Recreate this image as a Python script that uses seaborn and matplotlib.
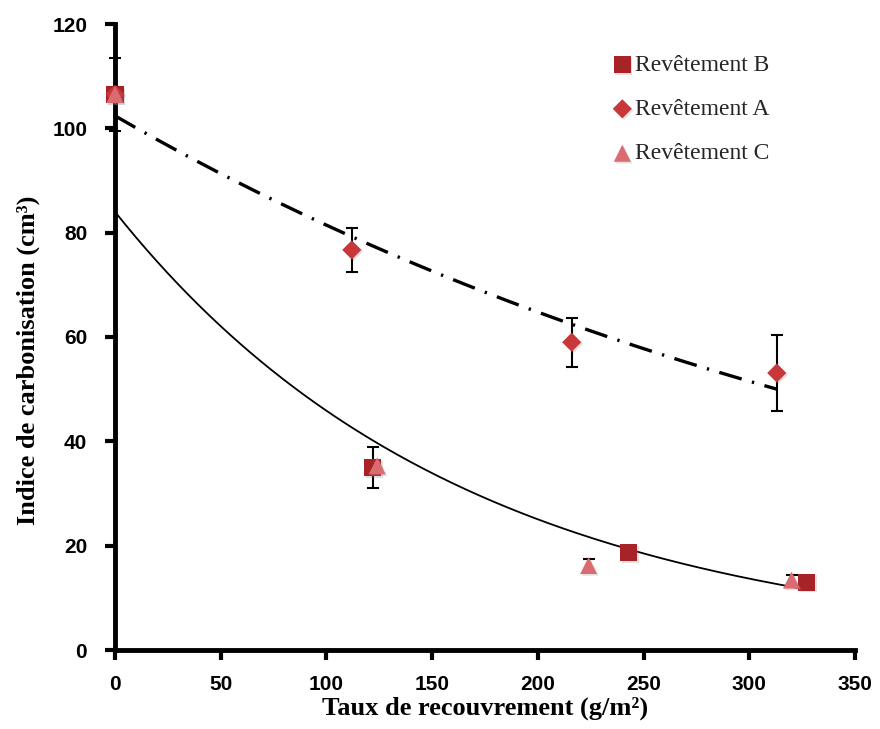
import numpy as np
import pandas as pd
import matplotlib
matplotlib.use("Agg")
import matplotlib.pyplot as plt
import matplotlib.patheffects as pe
import seaborn as sns

# Measured carbonisation index per coating
x_b = [0, 122, 243, 327]
y_b = [106.5, 35.0, 18.6, 13.0]
err_b = [0, 4.0, 0, 0]

x_a = [0, 112, 216, 313]
y_a = [106.5, 76.7, 59.0, 53.1]
err_a = [7.0, 4.2, 4.7, 7.2]

x_c = [0, 124, 224, 320]
y_c = [106.5, 35.3, 16.2, 13.4]
err_c = [0, 0, 1.2, 1.0]

# Exponential trendlines y = a * exp(b * x), drawn up to xmax
trend_a = (102.4, -0.00229, 313)   # dash-dot
trend_bc = (84.0, -0.00605, 327)   # solid

labels = ["Revêtement B", "Revêtement A", "Revêtement C"]
colors = {"Revêtement B": "#A82328", "Revêtement A": "#C8373A", "Revêtement C": "#DB6B70"}
markers = {"Revêtement B": "s", "Revêtement A": "D", "Revêtement C": "^"}
sizes = {"Revêtement B": 150, "Revêtement A": 95, "Revêtement C": 150}

df = pd.concat([
    pd.DataFrame({"x": x_b, "y": y_b, "err": err_b, "serie": labels[0]}),
    pd.DataFrame({"x": x_a, "y": y_a, "err": err_a, "serie": labels[1]}),
    pd.DataFrame({"x": x_c, "y": y_c, "err": err_c, "serie": labels[2]}),
], ignore_index=True)

sns.set_theme(style="white")
fig = plt.figure(figsize=(8.8, 7.29), dpi=100)
ax = fig.add_axes([115 / 880, 79 / 729, 740 / 880, 626 / 729])

# Trend curves
for (a, b, xmax), ls, lw in [(trend_a, (0, (7, 3.2, 0.7, 3.2)), 2.4),
                             (trend_bc, "-", 1.3)]:
    xs = np.linspace(0, xmax, 200)
    sns.lineplot(x=xs, y=a * np.exp(b * xs), ax=ax, color="black", lw=lw,
                 linestyle=ls, zorder=2)

# Error bars
for lab in labels:
    sub = df[(df.serie == lab) & (df.err > 0)]
    ax.errorbar(sub.x, sub.y, yerr=sub.err, fmt="none", ecolor="black",
                elinewidth=1.5, capsize=4.5, capthick=1.5, zorder=3,
                clip_on=False)

# Markers with a soft drop shadow
shadow = [pe.SimplePatchShadow(offset=(1.2, -1.2), shadow_rgbFace="#888888",
                               alpha=0.25), pe.Normal()]
for lab in labels:
    sub = df[df.serie == lab]
    sns.scatterplot(data=sub, x="x", y="y", ax=ax, color=colors[lab],
                    marker=markers[lab], s=sizes[lab], edgecolor="none",
                    label=lab, zorder=4, clip_on=False)
    ax.collections[-1].set_path_effects(shadow)

ax.set_xlim(0, 350)
ax.set_ylim(0, 120)
ax.set_xticks(np.arange(0, 351, 50))
ax.set_yticks(np.arange(0, 121, 20))

for s in ["top", "right"]:
    ax.spines[s].set_visible(False)
for s in ["left", "bottom"]:
    ax.spines[s].set_linewidth(3.5)
    ax.spines[s].set_color("black")

ax.tick_params(axis="both", direction="out", length=7, width=3,
               color="black", bottom=True, left=True)
ax.tick_params(axis="y", pad=13)
ax.tick_params(axis="x", pad=11)
for lbl in ax.get_xticklabels() + ax.get_yticklabels():
    lbl.set_fontfamily("Liberation Sans")
    lbl.set_fontweight("bold")
    lbl.set_fontsize(15)
    lbl.set_color("black")

ax.set_xlabel("Taux de recouvrement (g/m²)", fontfamily="Liberation Serif",
              fontweight="bold", fontsize=19, labelpad=1.5, color="black")
ax.set_ylabel("Indice de carbonisation (cm³)", fontfamily="Liberation Serif",
              fontweight="bold", fontsize=19, color="black")
ax.yaxis.set_label_coords(-0.101, 0.463)

leg = ax.legend(loc="upper left", bbox_to_anchor=(0.668, 0.952), frameon=False,
                prop={"family": "Liberation Serif", "size": 17},
                handletextpad=0.0, labelspacing=0.97, borderaxespad=0,
                borderpad=0, handlelength=1.1)

fig.savefig("out.png", dpi=100)
